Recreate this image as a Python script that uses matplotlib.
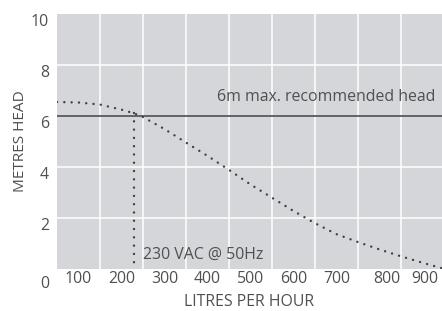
import matplotlib
matplotlib.use("Agg")
import matplotlib.pyplot as plt
from matplotlib.transforms import ScaledTranslation

# ---- data ----
flow_lph = [50, 100, 150, 200, 230, 250, 300, 350, 400, 450, 500, 550, 600,
            650, 700, 750, 800, 850, 900, 946]
head_m = [6.53, 6.51, 6.43, 6.23, 6.08, 5.94, 5.47, 4.94, 4.42, 3.87, 3.30,
          2.78, 2.26, 1.78, 1.35, 1.04, 0.75, 0.48, 0.23, 0.01]
operating_flow = 230
operating_head = 6.08
max_head = 6
x_ticks = [100, 200, 300, 400, 500, 600, 700, 800, 900]
x_grid = [150, 250, 350, 450, 550, 650, 750, 850]
y_ticks = [0, 2, 4, 6, 8, 10]
max_head_label = "6m max. recommended head"
supply_label = "230 VAC @ 50Hz"
x_label = "LITRES PER HOUR"
y_label = "METRES HEAD"

plt.rcParams['font.family'] = ['Open Sans', 'DejaVu Sans']
text_col = '#505050'
bg_col = '#d5d6da'
dot_col = '#3c3f48'
fs = 11.4

fig = plt.figure(figsize=(4.42, 3.11), dpi=100)
ax = fig.add_axes([57/442, 42.5/311, 385/442, 255/311])
ax.set_facecolor(bg_col)
for s in ax.spines.values():
    s.set_visible(False)

ax.set_xlim(50, 946)
ax.set_ylim(0, 10)

# grid
for g in x_grid:
    ax.axvline(g, color='white', lw=1.1, zorder=1)
for g in y_ticks[1:-1]:
    ax.axhline(g, color='white', lw=1.1, zorder=1)

# max head line
ax.axhline(max_head, color='#4a4a4e', lw=1.2, zorder=2)

# pump curve
ax.plot(flow_lph, head_m, color=dot_col, lw=1.75, linestyle=(0, (0.01, 3.0)),
        dash_capstyle='round', zorder=3)
ax.plot([operating_flow, operating_flow], [operating_head, 0], color=dot_col,
        lw=1.75, linestyle=(0, (0.01, 3.4)), dash_capstyle='round', zorder=3)

ax.text(931, 6.57, max_head_label, ha='right', va='baseline', fontsize=fs,
        color=text_col, zorder=4)
ax.text(251, 0.36, supply_label, ha='left', va='baseline', fontsize=fs,
        color=text_col, zorder=4)

# ticks
ax.set_xticks(x_ticks)
ax.set_xticklabels([str(v) for v in x_ticks])
ax.set_yticks(y_ticks)
ax.set_yticklabels([str(v) for v in y_ticks])
ax.tick_params(axis='both', length=0, labelsize=fs, labelcolor=text_col)
ax.tick_params(axis='x', pad=2.0)
ax.tick_params(axis='y', pad=5.8)

for lab in ax.get_yticklabels():
    dy = 13.2 if lab.get_text() == '0' else 6.5
    lab.set_transform(lab.get_transform() +
                      ScaledTranslation(0, -dy/100, fig.dpi_scale_trans))
x_shift = {'800': 8, '900': 3}
for lab in ax.get_xticklabels():
    if lab.get_text() in x_shift:
        lab.set_transform(lab.get_transform() +
                          ScaledTranslation(x_shift[lab.get_text()]/100, 0,
                                            fig.dpi_scale_trans))

ax.set_xlabel(x_label, fontsize=fs, color=text_col)
ax.set_ylabel(y_label, fontsize=fs * 0.97, color=text_col)
ax.xaxis.label.set_va('center')
ax.yaxis.label.set_va('center')
ax.xaxis.set_label_coords(0.5, -33.2/255)
ax.yaxis.set_label_coords(-37/385, 0.5)

fig.savefig('out.png', dpi=100)
